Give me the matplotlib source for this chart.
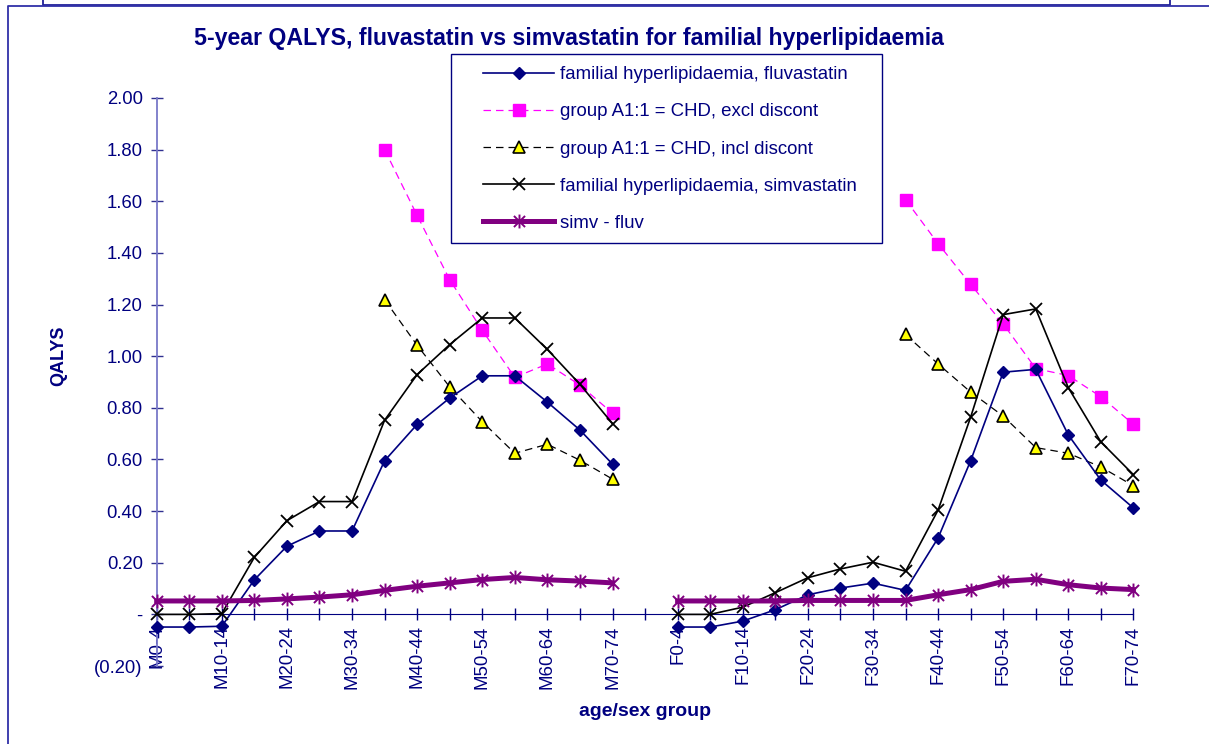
import matplotlib
matplotlib.use("Agg")
import matplotlib.pyplot as plt
import numpy as np
from matplotlib.path import Path
from matplotlib.lines import Line2D
from matplotlib.patches import Rectangle

plt.rcParams["font.family"] = ["Liberation Sans", "DejaVu Sans"]

NAVY = "#000080"

# ─── Data ────────────────────────────────────────────────────
ages = ["0-4", "5-9", "10-14", "15-19", "20-24", "25-29", "30-34", "35-39",
        "40-44", "45-49", "50-54", "55-59", "60-64", "65-69", "70-74"]
categories = ["M" + a for a in ages] + [""] + ["F" + a for a in ages]

fluv_m = [-0.049, -0.049, -0.046, 0.134, 0.264, 0.323, 0.323, 0.595,
          0.736, 0.838, 0.924, 0.924, 0.822, 0.714, 0.582]
fluv_f = [-0.049, -0.049, -0.026, 0.018, 0.076, 0.102, 0.121, 0.093,
          0.296, 0.595, 0.938, 0.949, 0.695, 0.520, 0.412]

simv_m = [0.0, 0.0, 0.003, 0.221, 0.363, 0.437, 0.437, 0.752,
          0.929, 1.045, 1.148, 1.148, 1.026, 0.891, 0.739]
simv_f = [0.0, 0.0, 0.028, 0.084, 0.142, 0.176, 0.202, 0.167,
          0.404, 0.764, 1.161, 1.183, 0.878, 0.668, 0.541]

# CHD group values only from age 35 upwards
excl_m = [1.800, 1.545, 1.296, 1.100, 0.918, 0.970, 0.888, 0.779]
excl_f = [1.606, 1.436, 1.278, 1.125, 0.952, 0.925, 0.843, 0.736]
incl_m = [1.219, 1.042, 0.881, 0.746, 0.624, 0.659, 0.597, 0.524]
incl_f = [1.084, 0.970, 0.861, 0.768, 0.646, 0.624, 0.571, 0.498]

diff_m = [0.052, 0.052, 0.052, 0.054, 0.060, 0.067, 0.076, 0.093,
          0.109, 0.122, 0.135, 0.143, 0.134, 0.129, 0.122]
diff_f = [0.052, 0.052, 0.052, 0.052, 0.054, 0.054, 0.054, 0.054,
          0.076, 0.096, 0.128, 0.136, 0.115, 0.102, 0.096]

y_ticks = [-0.2, 0.0, 0.2, 0.4, 0.6, 0.8, 1.0, 1.2, 1.4, 1.6, 1.8, 2.0]
y_labels = ["(0.20)", "-", "0.20", "0.40", "0.60", "0.80", "1.00",
            "1.20", "1.40", "1.60", "1.80", "2.00"]


def join(m, f):
    """Males, one blank category, females; pad short series at the young end."""
    n = len(ages)
    m = [np.nan] * (n - len(m)) + list(m)
    f = [np.nan] * (n - len(f)) + list(f)
    return np.array(m + [np.nan] + f, dtype=float)


x = np.arange(len(categories))

# asterisk marker (x plus vertical bar)
star = Path([(0, -1), (0, 1), (-0.8, -0.8), (0.8, 0.8), (-0.8, 0.8), (0.8, -0.8)],
            [Path.MOVETO, Path.LINETO] * 3)

# ─── Plot ────────────────────────────────────────────────────
fig = plt.figure(figsize=(12.09, 7.44), dpi=100)
ax = fig.add_axes([0.1296, 0.1048, 0.8079, 0.7635])

ax.plot(x, join(fluv_m, fluv_f), color=NAVY, lw=1.2, marker="D", ms=6.5,
        mfc=NAVY, mec=NAVY, label="familial hyperlipidaemia, fluvastatin",
        zorder=4, clip_on=False)
ax.plot(x, join(excl_m, excl_f), color="#ff00ff", lw=0.9, ls=(0, (6, 4)),
        marker="s", ms=8, mfc="#ff00ff", mec="#ff00ff",
        label="group A1:1 = CHD, excl discont", zorder=3, clip_on=False)
ax.plot(x, join(incl_m, incl_f), color="black", lw=0.9, ls=(0, (6, 4)),
        marker="^", ms=8, mfc="#ffff00", mec="black", mew=1.2,
        label="group A1:1 = CHD, incl discont", zorder=3, clip_on=False)
ax.plot(x, join(simv_m, simv_f), color="black", lw=1.2, marker="x", ms=9, mew=1.3,
        label="familial hyperlipidaemia, simvastatin", zorder=4, clip_on=False)
ax.plot(x, join(diff_m, diff_f), color="#800080", lw=3.6, marker=star, ms=10,
        mew=1.4, mec="#800080", label="simv - fluv", zorder=5, clip_on=False)

ax.set_xlim(0, len(categories) - 1)
ax.set_ylim(-0.2, 2.0)

ax.set_yticks(y_ticks)
ax.set_yticklabels(y_labels)
ax.set_xticks(x)
ax.set_xticklabels([c if i % 2 == 0 else "" for i, c in enumerate(categories)])

for s in ("top", "right"):
    ax.spines[s].set_visible(False)
ax.spines["bottom"].set_position(("data", 0))
ax.spines["bottom"].set_color(NAVY)
ax.spines["left"].set_color("#7878c8")
ax.spines["left"].set_linewidth(1.3)

ax.tick_params(axis="y", direction="inout", length=8, width=1, color="#303090",
               labelcolor=NAVY, labelsize=13.3, pad=6)
ax.tick_params(axis="x", direction="inout", length=8, width=1, color=NAVY,
               labelcolor=NAVY, labelsize=13.4, pad=4, labelrotation=90)

# Labels
fig.text(569 / 1209, 1 - 38 / 744,
         "5-year QALYS, fluvastatin vs simvastatin for familial hyperlipidaemia",
         ha="center", va="center", fontsize=16.7, fontweight="bold", color=NAVY)
fig.text(645 / 1209, 1 - 712 / 744, "age/sex group", ha="center", va="center",
         fontsize=14, fontweight="bold", color=NAVY)
fig.text(59 / 1209, 1 - 356 / 744, "QALYS", ha="center", va="center",
         rotation=90, fontsize=13, fontweight="bold", color=NAVY)

# Legend: frame drawn separately to get the wide left margin
leg = ax.legend(loc="upper left", bbox_to_anchor=(474 / 1209, 1 - 57 / 744),
                bbox_transform=fig.transFigure, frameon=False, borderpad=0,
                fontsize=13.4, handlelength=3.8, handletextpad=0.3,
                labelspacing=1.08, labelcolor=NAVY)
fig.add_artist(Rectangle((451 / 1209, 1 - 243 / 744), 431 / 1209, 189 / 744,
                         transform=fig.transFigure, fill=False,
                         edgecolor=NAVY, lw=1.0, zorder=1))

# Outer frame lines of the page
def fline(xs, ys, **kw):
    fig.add_artist(Line2D([v / 1209 for v in xs], [1 - v / 744 for v in ys],
                          transform=fig.transFigure, **kw))

fline([43, 43, 1170, 1170], [0, 5, 5, 0], color="#202098", lw=1.3)
fline([1209, 8, 8], [6, 6, 744], color="#3030a8", lw=1.3)

fig.savefig("out.png", dpi=100)
